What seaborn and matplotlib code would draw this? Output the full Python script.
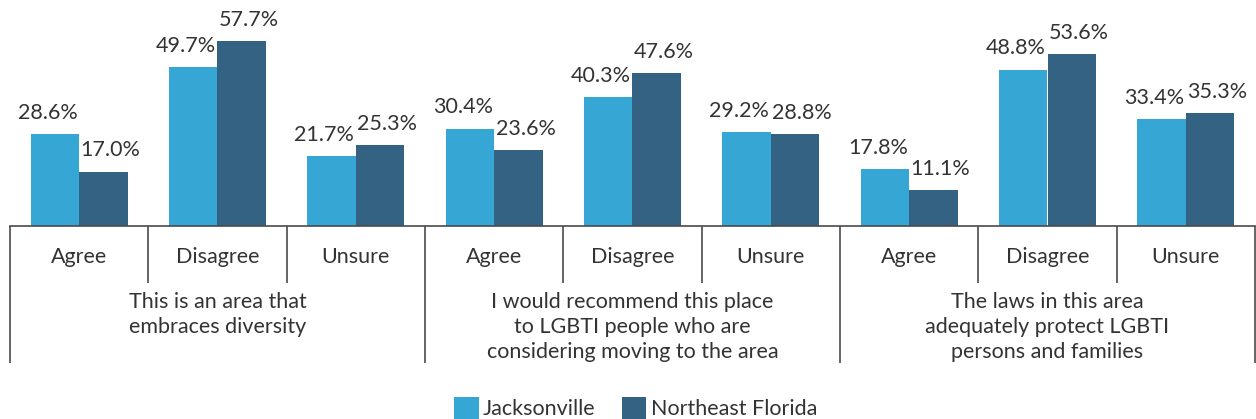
import matplotlib
matplotlib.use("Agg")
import matplotlib.pyplot as plt
from matplotlib.patches import Patch
import seaborn as sns
import pandas as pd

# Survey results
statements = [
    "This is an area that\nembraces diversity",
    "I would recommend this place\nto LGBTI people who are\nconsidering moving to the area",
    "The laws in this area\nadequately protect LGBTI\npersons and families",
]
responses = ["Agree", "Disagree", "Unsure"]
series = ["Jacksonville", "Northeast Florida"]
jacksonville = [28.6, 49.7, 21.7, 30.4, 40.3, 29.2, 17.8, 48.8, 33.4]
northeast_florida = [17.0, 57.7, 25.3, 23.6, 47.6, 28.8, 11.1, 53.6, 35.3]

colors = ["#36A6D5", "#336283"]
text_color = "#333333"
line_color = "#4a4a4a"
fs = 15.5

sns.set_theme(style="white")
plt.rcParams["font.family"] = ["Lato", "DejaVu Sans"]

# Long-form table built from the arrays above
keys = [f"{s}|{r}" for s in range(len(statements)) for r in responses]
df = pd.DataFrame({
    "item": keys * 2,
    "series": [series[0]] * len(keys) + [series[1]] * len(keys),
    "value": jacksonville + northeast_florida,
})

fig = plt.figure(figsize=(12.56, 4.19), dpi=100)
W, H = 1256, 419
ax = fig.add_axes([10 / W, 193 / H, 1245 / W, 226 / H])

sns.barplot(data=df, x="item", y="value", hue="series", order=keys,
            hue_order=series, palette=colors, width=0.7, gap=0,
            saturation=1, legend=False, linewidth=0, ax=ax)

ax.set_xlim(-0.5, len(keys) - 0.5)
ax.set_ylim(0, 70.5)
ax.set_xlabel("")
ax.set_ylabel("")
ax.set_yticks([])
ax.set_xticks([])
for side in ["top", "left", "right"]:
    ax.spines[side].set_visible(False)
ax.spines["bottom"].set_color(line_color)
ax.spines["bottom"].set_linewidth(1.2)

# Value labels above each bar
label_sets = []
for container in ax.containers:
    texts = ax.bar_label(container,
                         labels=[f"{v:.1f}%" for v in container.datavalues],
                         padding=8, fontsize=fs, color=text_color, clip_on=False)
    label_sets.append(texts)

# Push the two labels of each response apart so they sit side by side
fig.canvas.draw()
renderer = fig.canvas.get_renderer()
gap_px = 3
for left, right in zip(label_sets[0], label_sets[1]):
    bl = left.get_window_extent(renderer)
    br = right.get_window_extent(renderer)
    overlap = bl.x1 + gap_px - br.x0
    if overlap > 0:
        shift = overlap / 2 * 72 / fig.dpi
        for t, sign in ((left, -1), (right, 1)):
            x, y = t.xyann
            t.xyann = (x + sign * shift, y)

# Category separators below the axis: short between responses, long between statements
trans = ax.get_xaxis_transform()
px = 1 / 226  # one pixel in axes-height units
for i in range(len(keys) + 1):
    xpos = i - 0.5
    long_line = (i % 3 == 0)
    bottom = -(137 * px) if long_line else -(57 * px)
    ax.plot([xpos, xpos], [0, bottom], transform=trans, color=line_color,
            lw=1.2, clip_on=False, solid_capstyle="butt")

# Response labels
for i, key in enumerate(keys):
    ax.text(i, -31 * px, key.split("|")[1], transform=trans, ha="center",
            va="center", fontsize=fs, color=text_color)

# Statement labels
for s, text in enumerate(statements):
    ax.text(3 * s + 1, -66 * px, text, transform=trans, ha="center",
            va="top", fontsize=fs, color=text_color, linespacing=1.32)

# Legend
handles = [Patch(facecolor=c, edgecolor="none") for c in colors]
fig.legend(handles, series, loc="lower center", bbox_to_anchor=(0.506, -0.047),
           ncol=2, frameon=False, fontsize=fs, handlelength=1.15,
           handleheight=1.15, handletextpad=0.2, columnspacing=1.2,
           labelcolor=text_color)

fig.savefig("out.png", dpi=100, facecolor="white")
